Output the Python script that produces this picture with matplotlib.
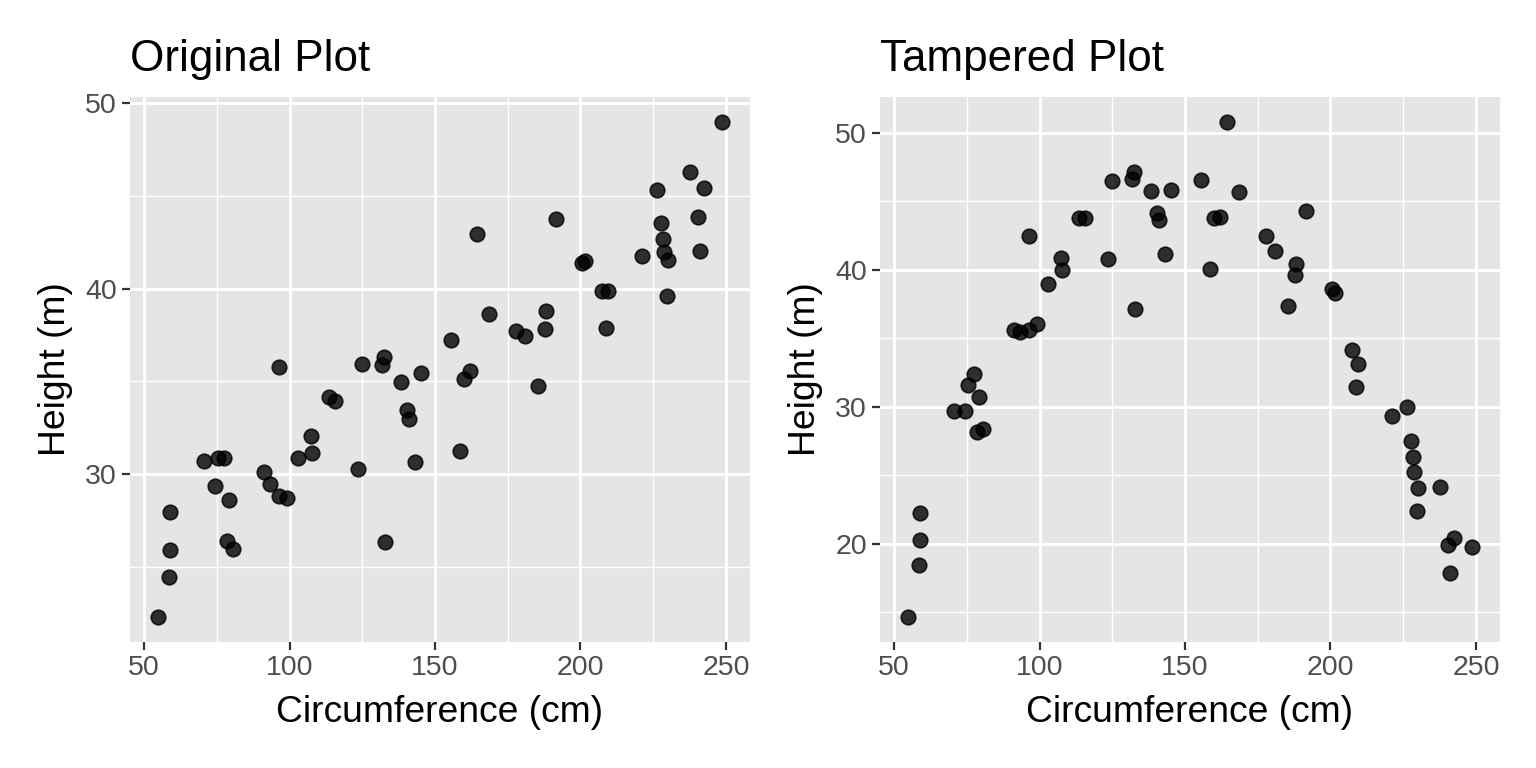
import matplotlib.pyplot as plt
import numpy as np

plt.rcParams['font.family'] = ['Liberation Sans', 'DejaVu Sans']

# circumference (cm), shared by both panels
circumference = [54.8, 58.4, 59.0, 59.0, 70.5, 74.3, 75.3, 77.6, 78.4, 79.3, 80.4,
                 91.1, 93.2, 96.2, 96.5, 99.1, 103.0, 107.4, 107.7, 113.6, 115.5,
                 123.6, 124.8, 131.6, 132.5, 132.8, 138.3, 140.4, 141.0, 143.0, 145.3,
                 155.5, 158.5, 160.1, 162.0, 164.4, 168.6, 178.0, 181.0, 185.3, 187.9,
                 188.3, 191.5, 200.4, 201.5, 207.4, 208.9, 209.5, 221.3, 226.4, 227.7,
                 228.3, 228.8, 229.7, 230.2, 237.8, 240.5, 241.1, 242.4, 248.6]

# original heights (m)
height_original = [22.27, 24.43, 25.92, 27.97, 30.69, 29.37, 30.85, 30.85, 26.40, 28.59, 25.97,
                   30.13, 29.48, 35.79, 28.82, 28.73, 30.87, 32.04, 31.15, 34.14, 33.93,
                   30.26, 35.94, 35.90, 36.30, 26.35, 34.98, 33.46, 32.99, 30.65, 35.47,
                   37.23, 31.25, 35.13, 35.56, 42.97, 38.65, 37.72, 37.45, 34.77, 37.83,
                   38.80, 43.74, 41.39, 41.51, 39.89, 37.86, 39.89, 41.76, 45.32, 43.56,
                   42.68, 41.96, 39.62, 41.55, 46.29, 43.87, 42.05, 45.41, 49.01]

# tampered heights (m)
height_tampered = [14.64, 18.44, 20.26, 22.26, 29.68, 29.73, 31.63, 32.41, 28.18, 30.70, 28.42,
                   35.64, 35.47, 42.48, 35.59, 36.03, 38.98, 40.85, 40.02, 43.77, 43.77,
                   40.77, 46.52, 46.64, 47.12, 37.18, 45.74, 44.13, 43.62, 41.19, 45.84,
                   46.54, 40.09, 43.77, 43.87, 50.82, 45.66, 42.48, 41.39, 37.39, 39.61,
                   40.46, 44.31, 38.61, 38.32, 34.13, 31.46, 33.14, 29.31, 30.02, 27.52,
                   26.32, 25.28, 22.43, 24.06, 24.16, 19.95, 17.85, 20.44, 19.78]

panel_titles = ['Original Plot', 'Tampered Plot']
y_major = [[30, 40, 50], [20, 30, 40, 50]]
y_minor = [[25, 35, 45], [15, 25, 35, 45]]
x_major = [50, 100, 150, 200, 250]
x_minor = [75, 125, 175, 225]

W, H = 1536, 768
fig = plt.figure(figsize=(W / 100, H / 100), dpi=100)
fig.patch.set_facecolor('white')

panel_left = [130, 880]
panel_w, panel_bottom, panel_h = 620, 126, 545


def expand(vals, frac=0.05):
    lo, hi = min(vals), max(vals)
    pad = (hi - lo) * frac
    return lo - pad, hi + pad


for i, heights in enumerate([height_original, height_tampered]):
    ax = fig.add_axes([panel_left[i] / W, panel_bottom / H, panel_w / W, panel_h / H])
    ax.set_facecolor('#E5E5E5')
    for s in ax.spines.values():
        s.set_visible(False)

    ax.set_xlim(*expand(circumference))
    ax.set_ylim(*expand(heights))

    ax.set_xticks(x_major)
    ax.set_xticks(x_minor, minor=True)
    ax.set_yticks(y_major[i])
    ax.set_yticks(y_minor[i], minor=True)

    ax.grid(which='major', color='white', linewidth=2.1)
    ax.grid(which='minor', color='white', linewidth=1.0)
    ax.set_axisbelow(True)

    ax.tick_params(which='major', length=5.5, width=1.6, color='#333333',
                   labelsize=20.5, labelcolor='#4D4D4D', pad=4)
    ax.tick_params(which='minor', length=0)

    ax.scatter(circumference, heights, s=110, color='black', alpha=0.8,
               edgecolors='black', linewidths=1.2, zorder=3)

    ax.set_xlabel('Circumference (cm)', fontsize=26.8, color='black', labelpad=10)
    ax.set_ylabel('Height (m)', fontsize=26.8, color='black', labelpad=9)
    ax.set_title(panel_titles[i], loc='left', fontsize=31.7, color='black', pad=19)

fig.savefig('out.png', dpi=100, facecolor='white')
